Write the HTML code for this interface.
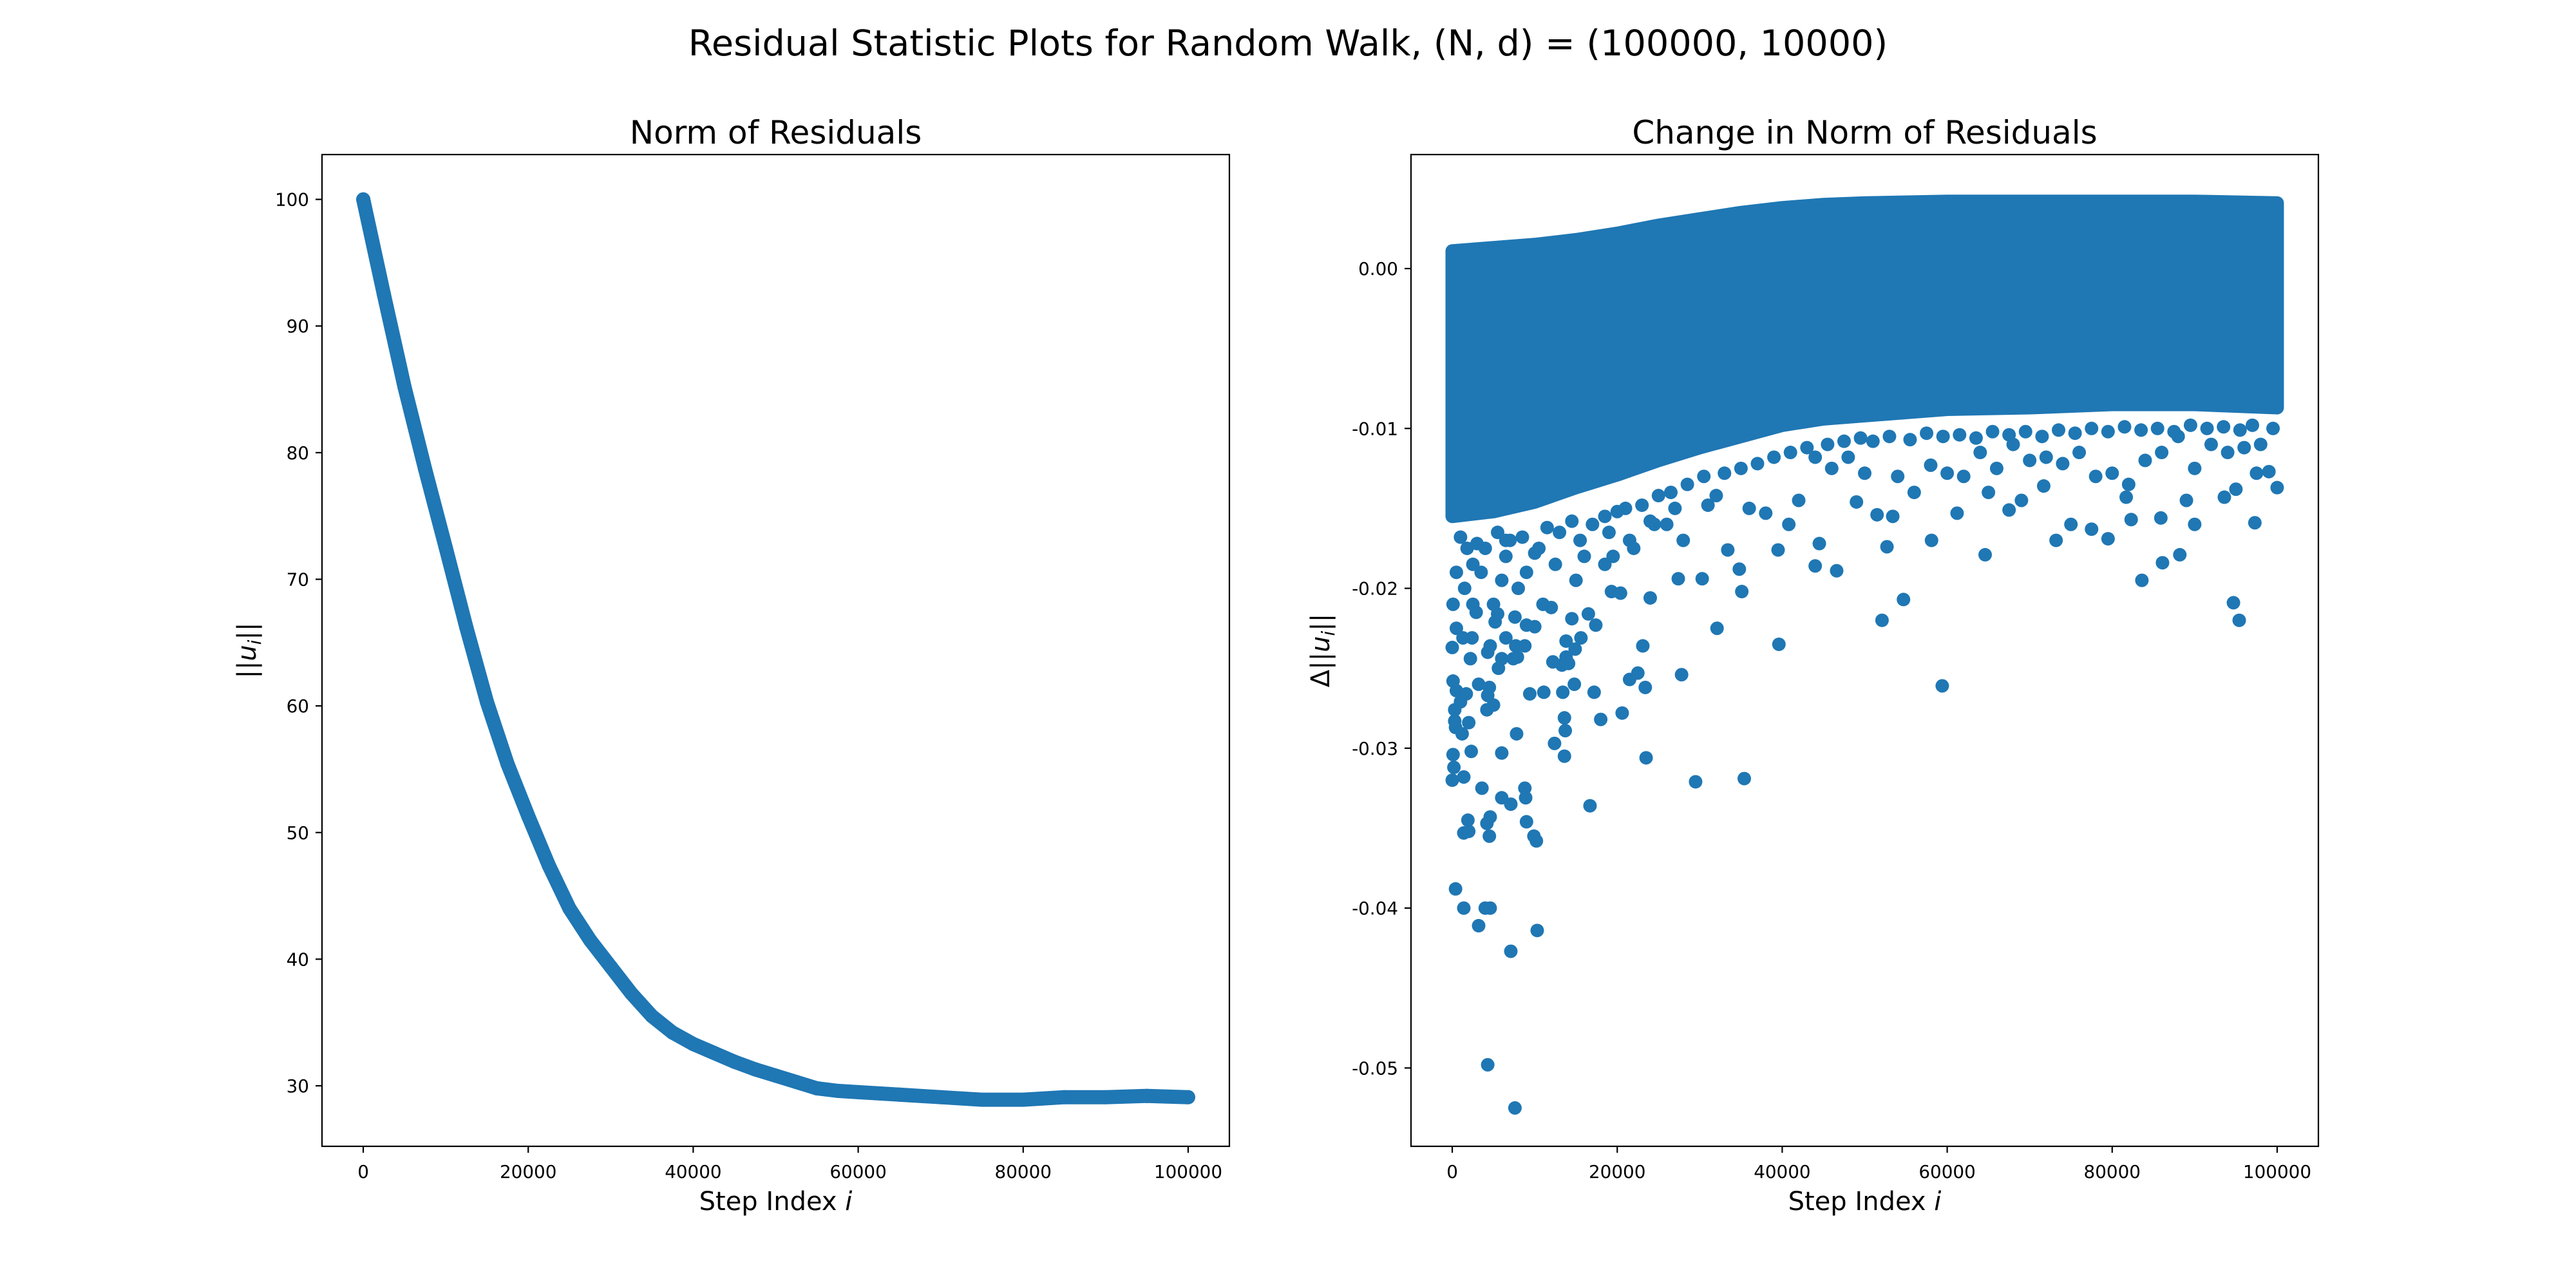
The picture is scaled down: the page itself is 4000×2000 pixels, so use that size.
<!DOCTYPE html>
<html><head><meta charset="utf-8"><style>
html,body{margin:0;padding:0;background:#fff;}
svg{display:block;font-family:"DejaVu Sans","Liberation Sans",sans-serif;}
</style></head><body>
<svg id="fig" width="4000" height="2000" viewBox="0 0 4000 2000" xmlns="http://www.w3.org/2000/svg">
<rect width="4000" height="2000" fill="#fff"/>
<text x="2000" y="86" font-size="55.6" text-anchor="middle">Residual Statistic Plots for Random Walk, (N, d) = (100000, 10000)</text>
<g id="left"></g>
<g id="right"></g>
</svg>
<script>
// ----- Left chart data -----
const normSteps = [0,2500,5000,7500,10000,12500,15000,17500,20000,22500,25000,27500,30000,32500,35000,37500,40000,42500,45000,47500,50000,52500,55000,57500,60000,65000,70000,75000,80000,85000,90000,95000,100000];
const normValues = [100,92.5,85.2,78.7,72.5,66.2,60.3,55.4,51.3,47.4,44.0,41.5,39.4,37.3,35.5,34.2,33.3,32.6,31.9,31.3,30.8,30.3,29.8,29.6,29.5,29.3,29.1,28.9,28.9,29.1,29.1,29.2,29.1];
const normYTicks = [30,40,50,60,70,80,90,100];
const xTicks = [0,20000,40000,60000,80000,100000];

// ----- Right chart data -----
const bandSteps = [0,5000,10000,15000,20000,25000,30000,35000,40000,45000,50000,60000,70000,80000,90000,100000];
const bandUpper = [0.0011,0.0013,0.0015,0.0018,0.0022,0.0027,0.0031,0.0035,0.0038,0.0040,0.0041,0.0042,0.0042,0.0042,0.0042,0.0041];
const bandLower = [-0.0155,-0.0152,-0.0146,-0.0137,-0.0129,-0.0120,-0.0112,-0.0105,-0.0098,-0.0094,-0.0092,-0.0088,-0.0087,-0.0085,-0.0085,-0.0087];
const outlierSteps = [400,4300,7600,7100,10300,3200,1400,4000,4600,10200,9900,4500,1400,2000,4200,4600,1900,9000,16700,7100,6000,8800,8900,3600,1400,0,200,100,29500,35400,23500,13600,6000,2300,12400,7800,1200,400,13700,2000,300,18000,20600,13600,4200,5000,300,1000,500,9400,11100,13400,17200,1700,3200,4500,4300,100,14800,59400,23400,21500,22500,27800,5600,13300,14100,12200,2200,6000,7400,7900,13800,4300,4600,8800,7700,0,14900,13800,23100,39600,15600,2400,1300,6500,32100,10000,9000,17400,5200,52100,95400,94700,54700,500,2900,5500,7600,12000,14500,16500,35100,24000,20400,19300,83600,30300,27400,46600,44000,86100,34800,88200,64600,39500,33400,52700,58100,44500,79500,73200,97300,90000,40800,77500,75000,61200,67500,85900,82300,53400,51500,100000,95000,93600,89000,81700,71700,65000,69000,49000,36000,42000,38000,31000,26000,28000,22000,18500,15000,11000,8000,6000,3500,1500,500,100,2500,5000,9000,12500,16000,19500,21500,24500,10500,6500,4000,1800,60000,62000,66000,70000,72000,74000,76000,78000,80000,84000,86000,88000,90000,92000,94000,96000,98000,99000,56000,54000,50000,48000,46000,44000,58000,64000,68000,82000,97500,1000,3000,5500,7000,8500,11500,13000,14500,17000,18500,20000,21000,23000,25000,26500,28500,30500,33000,35000,37000,39000,41000,43000,45500,47500,49500,51000,53000,55500,57500,59500,61500,63500,65500,67500,69500,71500,73500,75500,77500,79500,81500,83500,85500,87500,89500,91500,93500,95500,97000,99500,2500,6500,10000,15500,19000,24000,27000,32000];
const outlierValues = [-0.0388,-0.0498,-0.0525,-0.0427,-0.0414,-0.0411,-0.0400,-0.0400,-0.0400,-0.0358,-0.0355,-0.0355,-0.0353,-0.0352,-0.0347,-0.0343,-0.0345,-0.0346,-0.0336,-0.0335,-0.0331,-0.0325,-0.0331,-0.0325,-0.0318,-0.0320,-0.0312,-0.0304,-0.0321,-0.0319,-0.0306,-0.0305,-0.0303,-0.0302,-0.0297,-0.0291,-0.0291,-0.0287,-0.0289,-0.0284,-0.0283,-0.0282,-0.0278,-0.0281,-0.0276,-0.0273,-0.0276,-0.0271,-0.0264,-0.0266,-0.0265,-0.0265,-0.0265,-0.0266,-0.0260,-0.0262,-0.0267,-0.0258,-0.0260,-0.0261,-0.0262,-0.0257,-0.0253,-0.0254,-0.0250,-0.0248,-0.0247,-0.0246,-0.0244,-0.0244,-0.0244,-0.0243,-0.0243,-0.0240,-0.0236,-0.0236,-0.0236,-0.0237,-0.0238,-0.0233,-0.0236,-0.0235,-0.0231,-0.0231,-0.0231,-0.0231,-0.0225,-0.0224,-0.0223,-0.0223,-0.0221,-0.0220,-0.0220,-0.0209,-0.0207,-0.0225,-0.0215,-0.0216,-0.0218,-0.0212,-0.0219,-0.0216,-0.0202,-0.0206,-0.0203,-0.0202,-0.0195,-0.0194,-0.0194,-0.0189,-0.0186,-0.0184,-0.0188,-0.0179,-0.0179,-0.0176,-0.0176,-0.0174,-0.0170,-0.0172,-0.0169,-0.0170,-0.0159,-0.0160,-0.0160,-0.0163,-0.0160,-0.0153,-0.0151,-0.0156,-0.0157,-0.0155,-0.0154,-0.0137,-0.0138,-0.0143,-0.0145,-0.0143,-0.0136,-0.0140,-0.0145,-0.0146,-0.0150,-0.0145,-0.0153,-0.0148,-0.0160,-0.0170,-0.0175,-0.0185,-0.0195,-0.0210,-0.0200,-0.0195,-0.0190,-0.0200,-0.0190,-0.0210,-0.0210,-0.0210,-0.0190,-0.0185,-0.0180,-0.0180,-0.0170,-0.0160,-0.0175,-0.0170,-0.0175,-0.0175,-0.0128,-0.0130,-0.0125,-0.0120,-0.0118,-0.0122,-0.0115,-0.0130,-0.0128,-0.0120,-0.0115,-0.0105,-0.0125,-0.0110,-0.0115,-0.0112,-0.0110,-0.0127,-0.0140,-0.0130,-0.0128,-0.0118,-0.0125,-0.0118,-0.0123,-0.0115,-0.0110,-0.0135,-0.0128,-0.0168,-0.0172,-0.0165,-0.0170,-0.0168,-0.0162,-0.0165,-0.0158,-0.0160,-0.0155,-0.0152,-0.0150,-0.0148,-0.0142,-0.0140,-0.0135,-0.0130,-0.0128,-0.0125,-0.0122,-0.0118,-0.0115,-0.0112,-0.0110,-0.0108,-0.0106,-0.0108,-0.0105,-0.0107,-0.0103,-0.0105,-0.0104,-0.0106,-0.0102,-0.0104,-0.0102,-0.0105,-0.0101,-0.0103,-0.0100,-0.0102,-0.0099,-0.0101,-0.0100,-0.0102,-0.0098,-0.0100,-0.0099,-0.0101,-0.0098,-0.0100,-0.0185,-0.0180,-0.0178,-0.0170,-0.0165,-0.0158,-0.0150,-0.0142];
const changeYTicks = [-0.05,-0.04,-0.03,-0.02,-0.01,0.00];

const NS='http://www.w3.org/2000/svg';
const C='#1f77b4';
function mk(parent,tag,attrs){const e=document.createElementNS(NS,tag);for(const k in attrs)e.setAttribute(k,attrs[k]);parent.appendChild(e);return e;}
const AX_T=240,AX_B=1780;
function scaleX(L,R){const x0=-5000,x1=105000;return v=>L+(v-x0)/(x1-x0)*(R-L);}
function scaleY(y0,y1){return v=>AX_B-(v-y0)/(y1-y0)*(AX_B-AX_T);}

function axes(g,L,R,sx,sy,yt,yfmt,title,ylabelX,ylabelParts){
  const t=mk(g,'text',{x:(L+R)/2,y:223,'font-size':50,'text-anchor':'middle'});
  
  
  t.textContent=title;
  xTicks.forEach(v=>{
    const x=sx(v);
    const tk=mk(g,'line',{x1:x,x2:x,y1:AX_B,y2:AX_B+10,stroke:'#000','stroke-width':2.2});
    
    
    const tl=mk(g,'text',{x:x,y:1829,'font-size':27.8,'text-anchor':'middle'});
    
    
    tl.textContent=String(v);
  });
  yt.forEach(v=>{
    const y=sy(v);
    const tk=mk(g,'line',{x1:L-10,x2:L,y1:y,y2:y,stroke:'#000','stroke-width':2.2});
    
    
    const tl=mk(g,'text',{x:L-20,y:y+10,'font-size':27.8,'text-anchor':'end'});
    
    
    tl.textContent=yfmt(v);
  });
  const xl=mk(g,'text',{x:(L+R)/2,y:1879,'font-size':40,'text-anchor':'middle'});
  
  
  xl.innerHTML='Step Index <tspan font-style="italic">i</tspan>';
  const yl=mk(g,'text',{x:ylabelX,y:(AX_T+AX_B)/2,'font-size':40,'text-anchor':'middle',transform:`rotate(-90 ${ylabelX} ${(AX_T+AX_B)/2})`});
  
  
  yl.innerHTML=ylabelParts;
  const fr=mk(g,'rect',{x:L,y:AX_T,width:R-L,height:AX_B-AX_T,fill:'none',stroke:'#000','stroke-width':2.2});
  
  
}

// Left
(function(){
  const g=document.getElementById('left');
  const L=500,R=1909;
  const sx=scaleX(L,R), sy=scaleY(25.22,103.54);
  const pts=normSteps.map((s,i)=>sx(s)+','+sy(normValues[i])).join(' ');
  const line=mk(g,'polyline',{points:pts,fill:'none',stroke:C,'stroke-width':22,'stroke-linejoin':'round','stroke-linecap':'round'});
  
  
  normSteps.forEach((s,i)=>{
    const c=mk(g,'circle',{cx:sx(s),cy:sy(normValues[i]),r:11,fill:C});
    
    
  });
  axes(g,L,R,sx,sy,normYTicks,v=>String(v),'Norm of Residuals',397,'||<tspan font-style="italic">u</tspan><tspan font-style="italic" font-size="28" dy="8">i</tspan><tspan dy="-8">||</tspan>');
})();

// Right
(function(){
  const g=document.getElementById('right');
  const L=2191,R=3600;
  const sx=scaleX(L,R), sy=scaleY(-0.0549,0.00713);
  const up=bandSteps.map((s,i)=>sx(s)+','+sy(bandUpper[i]));
  const lo=bandSteps.map((s,i)=>sx(s)+','+sy(bandLower[i])).reverse();
  const band=mk(g,'polygon',{points:up.concat(lo).join(' '),fill:C,stroke:C,'stroke-width':21,'stroke-linejoin':'round'});
  
  
  outlierSteps.forEach((s,i)=>{
    const c=mk(g,'circle',{cx:sx(s),cy:sy(outlierValues[i]),r:10.5,fill:C});
    
    
  });
  axes(g,L,R,sx,sy,changeYTicks,v=>v.toFixed(2),'Change in Norm of Residuals',2064,'Δ||<tspan font-style="italic">u</tspan><tspan font-style="italic" font-size="28" dy="8">i</tspan><tspan dy="-8">||</tspan>');
})();
</script>
</body></html>
